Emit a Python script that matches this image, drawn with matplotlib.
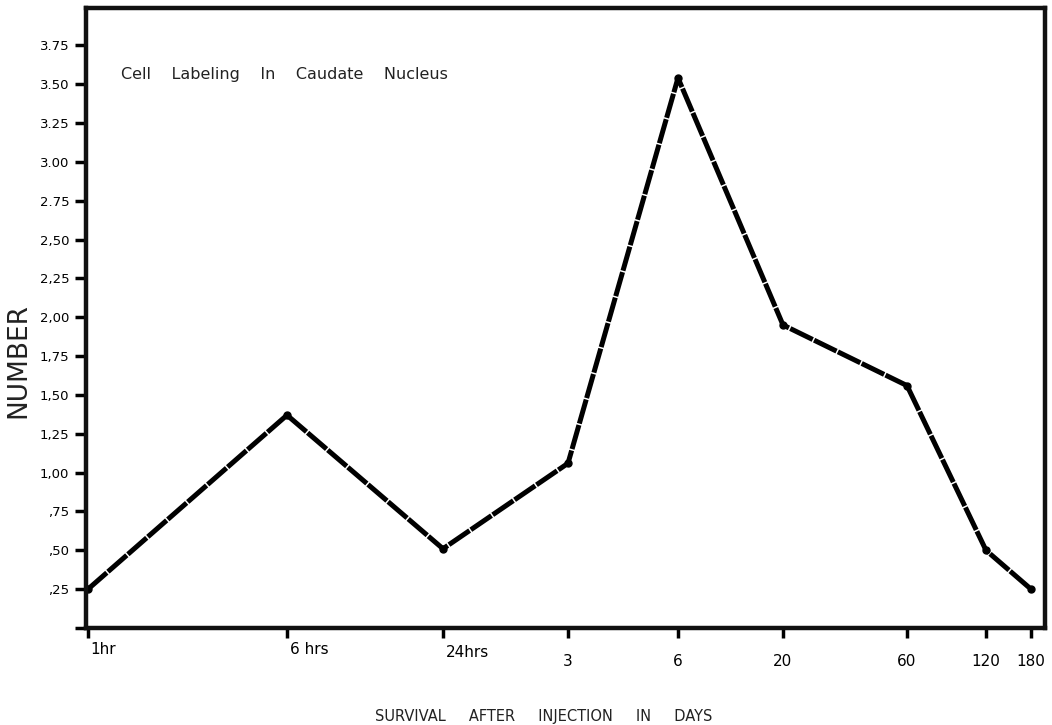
import numpy as np
import matplotlib
matplotlib.use('Agg')
import matplotlib.pyplot as plt
import matplotlib.transforms as mtransforms

# survival times and their spots along the (non-linear) hand drawn axis
time_labels = ['1hr', '6 hrs', '24hrs', '3', '6', '20', '60', '120', '180']
time_pos = [2, 201, 357, 482, 592, 697, 821, 900, 945]
cell_number = [0.25, 1.37, 0.51, 1.06, 3.54, 1.95, 1.56, 0.50, 0.25]

ytick_vals = [0, 0.25, 0.5, 0.75, 1.0, 1.25, 1.5, 1.75, 2.0, 2.25, 2.5,
              2.75, 3.0, 3.25, 3.5, 3.75]
ytick_labels = ['', ',25', ',50', ',75', '1,00', '1,25', '1,50', '1,75',
                '2,00', '2,25', '2,50', '2.75', '3.00', '3.25', '3.50', '3.75']

plt.rcParams['font.family'] = ['DejaVu Sans']

fig = plt.figure(figsize=(10.52, 7.25), dpi=100)
ax = fig.add_axes([86 / 1052, 1 - 628 / 725, (1045 - 86) / 1052, (628 - 8) / 725])

ax.plot(time_pos, cell_number, color='black', linewidth=3.6,
        dashes=(5, 0.3), dash_capstyle='butt', solid_joinstyle='miter')
ax.plot(time_pos, cell_number, 'o', color='black', markersize=5)

ax.set_xlim(0, 959)
ax.set_ylim(0, 3.99)

ax.set_yticks(ytick_vals)
ax.set_yticklabels(ytick_labels, fontsize=9.5)
ax.set_xticks(time_pos)
ax.set_xticklabels(time_labels, fontsize=11)
ax.tick_params(axis='y', direction='out', length=8, width=2.5, pad=4)
ax.tick_params(axis='x', direction='out', length=7, width=2.5, pad=12)

# the hour labels sit right of their ticks and a bit higher
for i, lab in enumerate(ax.get_xticklabels()[:3]):
    lab.set_horizontalalignment('left')
    dy = -7 / 72 if i == 2 else -9 / 72
    lab.set_transform(lab.get_transform() +
                      mtransforms.ScaledTranslation(2 / 72, -dy, fig.dpi_scale_trans))

for side in ['left', 'right', 'top', 'bottom']:
    ax.spines[side].set_linewidth(3.2)
    ax.spines[side].set_color('#111111')

ax.text(0.037, 0.886, 'Cell    Labeling    In    Caudate    Nucleus',
        transform=ax.transAxes, fontsize=11.5, color='#222222')

fig.text(18 / 1052, 1 - 360 / 725, 'NUMBER', rotation=90, fontsize=19,
         ha='center', va='center', color='#222222')
fig.text(544 / 1052, 1 - 717 / 725, 'SURVIVAL     AFTER     INJECTION     IN     DAYS',
         fontsize=10.5, ha='center', va='center', color='#222222')

fig.savefig('out.png', dpi=100)
